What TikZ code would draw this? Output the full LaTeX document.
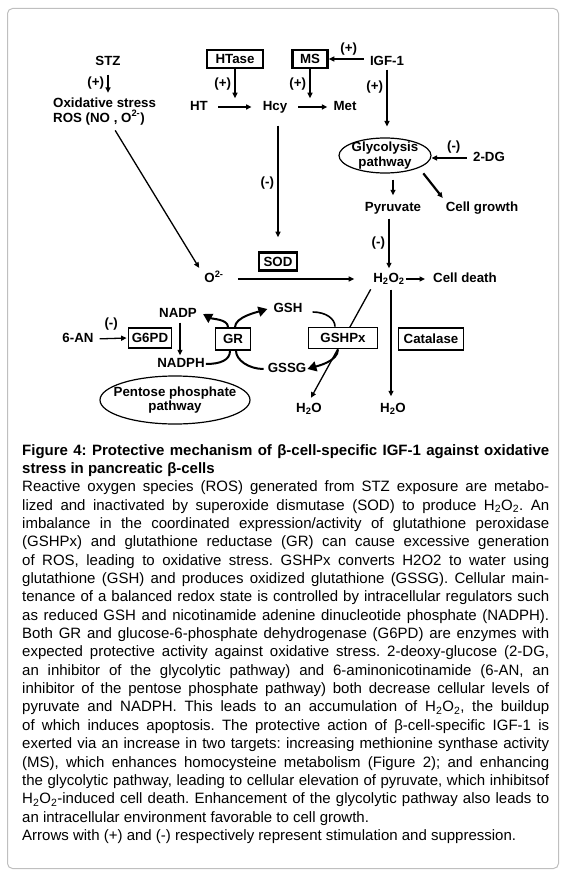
\documentclass[tikz,border=0pt]{standalone}
\usepackage{fontspec}
\setmainfont{Liberation Sans}
\usetikzlibrary{arrows.meta}
\usetikzlibrary{positioning}
\usetikzlibrary{shapes.geometric}

\begin{document}
\begin{tikzpicture}[x=1pt,y=-1pt,>={Triangle[length=5.5pt,width=5pt]},
    font=\fontsize{13.3}{14.5}\selectfont\bfseries]
    \tikzset{lbl/.style = {inner sep=1pt, text height=10pt, text depth=3pt},
        enzbox/.style = {shape=rectangle, draw, line width=1.8pt, fill=white, minimum height=21pt, inner sep=2pt},
        boldbox/.style = {enzbox, line width=2.5pt, minimum height=18pt},
        flow/.style = {->, line width=1.3pt},
        thickflow/.style = {->, line width=2.2pt},
        recycle/.style = {line width=2pt},
        bighead/.style = {-{Triangle[length=9pt,width=10pt]}}}
    \useasboundingbox (0,0) rectangle (565,877);
    \draw[gray!50, line width=1pt, rounded corners=5pt] (7.5,8.5) rectangle (558.5,868.5);

    % STZ and ROS
    \node[lbl] (stz) at (108,62) {STZ};
    \node[inner sep=1pt, align=left, anchor=west, font=\fontsize{13.3}{14.5}\selectfont\bfseries] (ros) at (52,111.5)
        {Oxidative stress\\ROS (NO , O\textsuperscript{2-})};
    \draw[flow, shorten <=5pt, shorten >=4pt] (stz.south) -- (stz.south |- ros.north) node[midway, left] {(+)};

    % homocysteine
    \node[boldbox, minimum width=56pt] (htase) at (235,59) {HTase};
    \node[boldbox, minimum width=35pt] (ms) at (310,59) {MS};
    \node[lbl] (igf) at (387,62) {IGF-1};
    \node[lbl] (ht) at (199,107) {HT};
    \node[lbl] (hcy) at (275,107) {Hcy};
    \node[lbl] (met) at (345,107) {Met};
    \draw[flow, shorten <=9pt, shorten >=10pt] (ht) -- (hcy);
    \draw[flow, shorten <=10pt, shorten >=5pt] (hcy) -- (met);
    \draw[flow] (htase.south) -- ++(0,29) node[midway, left] {(+)};
    \draw[flow] (ms.south) -- ++(0,29) node[midway, left] {(+)};
    \draw[flow, shorten <=5pt] (ms.east -| igf.west) -- (ms.east) node[midway, above] {(+)};

    % glycolysis
    \node[draw, ellipse, line width=1.2pt, minimum width=92pt, minimum height=35pt, inner xsep=-1.5pt, inner ysep=-1.5pt,
        align=center, font=\fontsize{13.3}{15}\selectfont\bfseries] (gly) at (385,155.5) {Glycolysis\\pathway};
    \draw[flow, shorten >=11pt] (igf.south) -- (igf.south |- gly.north) node[pos=0.25, left] {(+)};
    \node[lbl] (dg) at (489,158) {2-DG};
    \draw[thickflow, shorten <=5pt] (dg.west) -- (dg.west -| gly.east) node[pos=0.45, above] {(-)};
    \node[lbl] (pyr) at (393,208) {Pyruvate};
    \node[lbl] (growth) at (482,208) {Cell growth};
    \draw[thickflow, shorten <=6pt, shorten >=5pt] (pyr.north |- gly.south) -- (pyr.north);
    \draw[thickflow, shorten <=7pt, shorten >=3pt] (gly.-20) -- (growth.north west);

    % peroxide
    \node[lbl] (h2o2) at (389,279) {H\textsubscript{2}O\textsubscript{2}};
    \node[lbl] (death) at (465,279) {Cell death};
    \node[lbl] (o2) at (214,279) {O\textsuperscript{2-}};
    \draw[flow, shorten <=3pt, shorten >=3pt] (pyr.south -| h2o2.north) -- (h2o2.north) node[midway, left] {(-)};
    \draw[flow, shorten >=7pt] (h2o2.east) -- (death.west);
    \draw[flow, shorten <=13pt, shorten >=18pt] (o2.east) -- (h2o2.west);
    \draw[flow, shorten <=5pt, shorten >=4pt] ([xshift=8pt]ros.south) -- ([xshift=-2pt]o2.north west);
    \node[boldbox, minimum width=38pt] (sod) at (278,261.5) {SOD};
    \draw[flow, shorten <=11pt, shorten >=14pt] (sod.north |- hcy.south) -- (sod.north) node[midway, left] {(-)};

    % glutathione cycle
    \node[lbl] (an) at (78,339) {6-AN};
    \node[enzbox, minimum width=43pt, minimum height=20pt] (g6pd) at (150,338) {G6PD};
    \draw[flow, shorten <=5pt, shorten >=1pt] (an.east) -- (g6pd.west) node[midway, above, yshift=4pt] {(-)};
    \node[lbl] (nadp) at (178,314) {NADP};
    \node[lbl] (nadph) at (181,364) {NADPH};
    \draw[->, line width=1.2pt, shorten <=1pt, shorten >=1pt] ([xshift=2pt]nadp.south) -- ([xshift=2pt]nadp.south |- nadph.north);
    \node[enzbox, minimum width=35pt, minimum height=22pt] (gr) at (233,339) {GR};
    \node[lbl] (gsh) at (288,309) {GSH};
    \node[lbl] (gssg) at (287,369) {GSSG};
    \draw[recycle] (nadph.east) .. controls +(15,0) and +(0,9) .. ([xshift=-3pt]gr.south);
    \draw[recycle, bighead] ([xshift=-5pt]gr.north) .. controls +(0,-8) and +(9,5) .. ([xshift=5pt]nadp.east);
    \draw[recycle] ([xshift=-3pt]gssg.west) .. controls +(-15,0) and +(0,9) .. ([xshift=3pt]gr.south);
    \draw[recycle, bighead] ([xshift=2pt]gr.north) .. controls +(0,-10) and +(-10,3) .. ([xshift=-5pt]gsh.west);

    % peroxidase and catalase
    \node[lbl] (h2oa) at (309,409) {H\textsubscript{2}O};
    \node[lbl] (h2ob) at (393,409) {H\textsubscript{2}O};
    \draw[flow, shorten <=3pt, shorten >=4pt] (h2o2.south west) -- (h2oa.north);
    \draw[flow, shorten <=3pt, shorten >=5pt] ([xshift=2pt]h2o2.south) -- ([xshift=2pt]h2o2.south |- h2ob.north);
    \node[enzbox, minimum width=69pt] (gshpx) at (343,338) {GSHPx};
    \node[enzbox, minimum width=65pt, minimum height=22pt] (catalase) at (431,339) {Catalase};
    \draw[line width=1.6pt, shorten <=9pt] ([yshift=-3pt]gsh.east) .. controls +(22,0) and +(0,-8) .. ([xshift=-8pt]gshpx.north);
    \draw[recycle, bighead] ([xshift=-5pt]gshpx.south) .. controls +(0,12) and +(10,-3) .. (gssg.east);

    \node[draw, ellipse, line width=1.2pt, minimum width=150pt, minimum height=48pt, inner xsep=-9pt, inner ysep=2pt,
        align=center] (ppp) at (175,400) {Pentose phosphate\\pathway};

    % legend
    \node[anchor=north west, inner sep=0pt, text width=527pt, align=justify,
        font=\fontsize{15}{18.35}\selectfont] (caption) at (22,444)
        {\frenchspacing\hyphenpenalty=10000 \exhyphenpenalty=10000
        \textbf{Figure 4: Protective mechanism of β-cell-specific IGF-1 against oxidative\linebreak
        stress in pancreatic β-cells}\\
        Reactive oxygen species (ROS) generated from STZ exposure are metabo-\linebreak
        lized and inactivated by superoxide dismutase (SOD) to produce H\textsubscript{2}O\textsubscript{2}. An\linebreak
        imbalance in the coordinated expression/activity of glutathione peroxidase\linebreak
        (GSHPx) and glutathione reductase (GR) can cause excessive generation\linebreak
        of ROS, leading to oxidative stress. GSHPx converts H2O2 to water using\linebreak
        glutathione (GSH) and produces oxidized glutathione (GSSG). Cellular main-\linebreak
        tenance of a balanced redox state is controlled by intracellular regulators such\linebreak
        as reduced GSH and nicotinamide adenine dinucleotide phosphate (NADPH).\linebreak
        Both GR and glucose-6-phosphate dehydrogenase (G6PD) are enzymes with\linebreak
        expected protective activity against oxidative stress. 2-deoxy-glucose (2-DG,\linebreak
        an inhibitor of the glycolytic pathway) and 6-aminonicotinamide (6-AN, an\linebreak
        inhibitor of the pentose phosphate pathway) both decrease cellular levels of\linebreak
        pyruvate and NADPH. This leads to an accumulation of H\textsubscript{2}O\textsubscript{2}, the buildup\linebreak
        of which induces apoptosis. The protective action of β-cell-specific IGF-1 is\linebreak
        exerted via an increase in two targets: increasing methionine synthase activity\linebreak
        (MS), which enhances homocysteine metabolism (Figure 2); and enhancing\linebreak
        the glycolytic pathway, leading to cellular elevation of pyruvate, which inhibitsof\linebreak
        H\textsubscript{2}O\textsubscript{2}-induced cell death. Enhancement of the glycolytic pathway also leads to\linebreak
        an intracellular environment favorable to cell growth.\\
        Arrows with (+) and (-) respectively represent stimulation and suppression.};
\end{tikzpicture}
\end{document}
